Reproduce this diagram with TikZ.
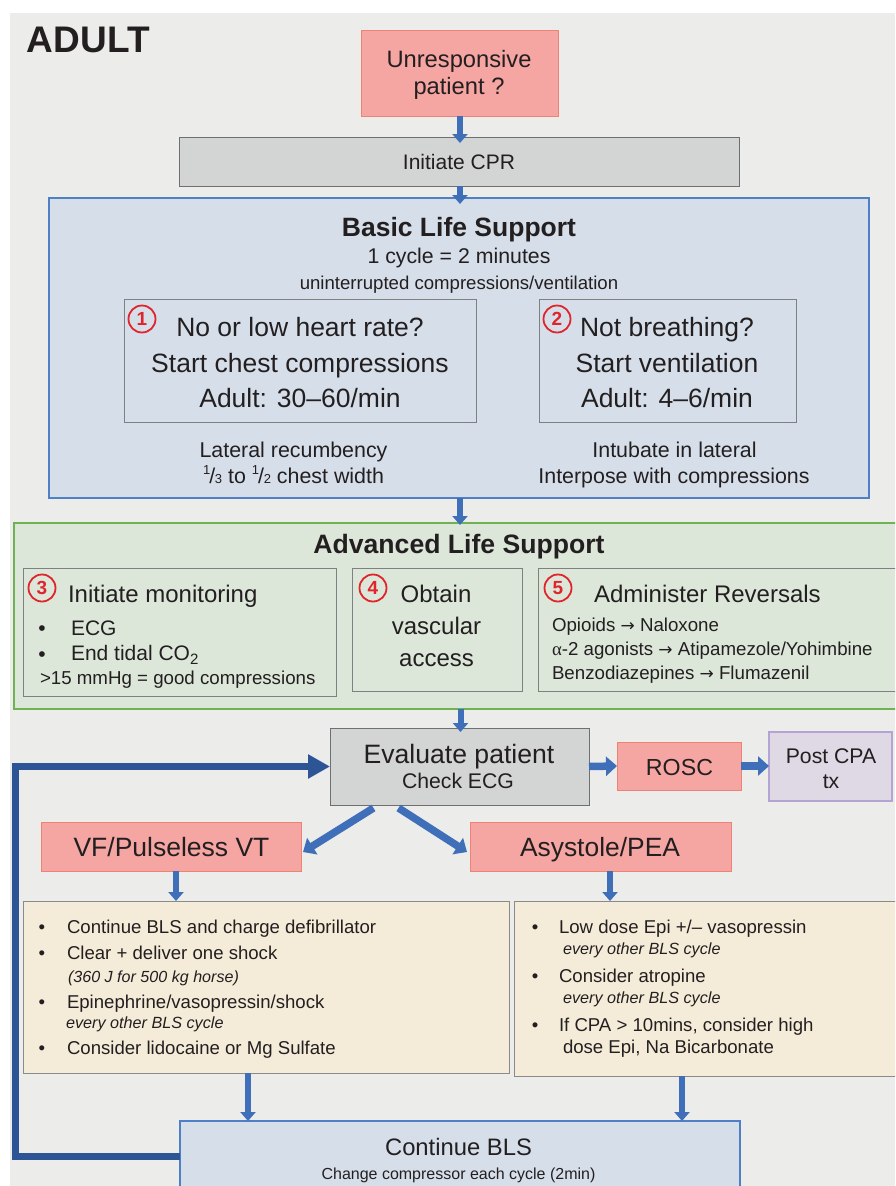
\documentclass[tikz,border=0pt]{standalone}
\usepackage{fontspec}
\setmainfont{Liberation Sans}
\newfontfamily\greekserif{Liberation Serif}
\newfontfamily\arrowfont{DejaVu Sans}
\usetikzlibrary{arrows.meta,calc}

\definecolor{bggray}{HTML}{ECECEB}
\definecolor{ink}{HTML}{231F20}
\definecolor{pinkfill}{HTML}{F5A5A2}
\definecolor{pinkedge}{HTML}{EE8277}
\definecolor{grayfill}{HTML}{D3D4D4}
\definecolor{grayedge}{HTML}{6E6F71}
\definecolor{blsfill}{HTML}{D6DFE9}
\definecolor{blsedge}{HTML}{4F7FC6}
\definecolor{alsfill}{HTML}{DCE7D9}
\definecolor{alsedge}{HTML}{6DB353}
\definecolor{frameedge}{HTML}{7F8082}
\definecolor{yelfill}{HTML}{F4ECD9}
\definecolor{yeledge}{HTML}{8A8A8A}
\definecolor{lavfill}{HTML}{DFD8E5}
\definecolor{lavedge}{HTML}{B3A4D3}
\definecolor{arrowblue}{HTML}{3F6FB8}
\definecolor{loopblue}{HTML}{2D5494}
\definecolor{numred}{HTML}{E0242C}

\newcommand\fsz[1]{\fontsize{#1}{#1}\selectfont}
% stacked fraction such as 1/3 with a raised numerator
\newcommand\stfrac[2]{\raisebox{0.42em}{\fsz{13}#1}\kern-0.04em/\kern-0.02em{\fsz{13}#2}}
% right arrow used in the reversal list
\newcommand\rarr{{\arrowfont\fsz{17}→}}

\tikzset{
  every node/.style={inner sep=0pt, outer sep=0pt, text=ink},
  boxbase/.style={rectangle, line width=1pt},
  pinkbox/.style={boxbase, fill=pinkfill, draw=pinkedge},
  graybox/.style={boxbase, fill=grayfill, draw=grayedge},
  blsbox/.style={boxbase, fill=blsfill, draw=blsedge, line width=1.2pt},
  alsbox/.style={boxbase, fill=alsfill, draw=alsedge, line width=1.2pt},
  framebox/.style={boxbase, draw=frameedge},
  yelbox/.style={boxbase, fill=yelfill, draw=yeledge},
  lavbox/.style={boxbase, fill=lavfill, draw=lavedge, line width=1.2pt},
  ct/.style={anchor=base},
  lt/.style={anchor=base west},
  num/.style={circle, draw=numred, line width=1.8pt, minimum size=27pt,
              text=numred, font=\bfseries\fsz{19}},
  blk/.style={line width=6pt, draw=arrowblue, -{Triangle[width=15pt,length=9pt]}},
  blkwide/.style={line width=7.5pt, draw=arrowblue, -{Triangle[width=19pt,length=11pt]}},
  loopline/.style={line width=7pt, draw=loopblue, line join=miter,
              -{Triangle[width=23pt,length=22pt]}},
}

\begin{document}
\begin{tikzpicture}[x=1pt, y=-1pt]
\clip (0,0) rectangle (895,1186);
\fill[white] (0,0) rectangle (895,1186);
\fill[bggray] (10,13) rectangle (895,1186);

% title
\node[lt, font=\bfseries\fsz{37}] (adult) at (27,52) {ADULT};

% entry
\node[pinkbox, minimum width=197pt, minimum height=86pt] (unresp) at (459.5,73) {};
\node[ct, font=\fsz{23.7}] (unrespa) at (459,67) {Unresponsive};
\node[ct, font=\fsz{23.7}] (unrespb) at (459,94) {patient ?};

\node[graybox, minimum width=560pt, minimum height=49pt] (cpr) at (459,161.5) {};
\node[ct, font=\fsz{21}] (cprt) at (459,169) {Initiate CPR};

% basic life support
\node[blsbox, minimum width=820pt, minimum height=300pt] (bls) at (459,348) {};
\node[ct, font=\bfseries\fsz{26.5}] (blstitle) at (459,236) {Basic Life Support};
\node[ct, font=\fsz{21.3}] (blscycle) at (459,263) {1 cycle = 2 minutes};
\node[ct, font=\fsz{18.6}] (blsunint) at (459,289) {uninterrupted compressions/ventilation};

\node[framebox, minimum width=352pt, minimum height=123pt] (hr) at (300,360.5) {};
\node[num] (n1) at (142,319) {1};
\node[ct, font=\fsz{26.5}] (hra) at (300,336) {No or low heart rate?};
\node[ct, font=\fsz{26.5}] (hrb) at (300,372) {Start chest compressions};
\node[ct, font=\fsz{26.5}] (hrc) at (300,407) {Adult: 30–60/min};

\node[framebox, minimum width=257pt, minimum height=123pt] (br) at (667.5,360.5) {};
\node[num] (n2) at (557,319) {2};
\node[ct, font=\fsz{26.5}] (bra) at (667,336) {Not breathing?};
\node[ct, font=\fsz{26.5}] (brb) at (667,372) {Start ventilation};
\node[ct, font=\fsz{26.5}] (brc) at (667,407) {Adult: 4–6/min};

\node[ct, font=\fsz{21.4}] (lata) at (293.5,457) {Lateral recumbency};
\node[ct, font=\fsz{21.4}] (latb) at (293.5,483) {\stfrac{1}{3} to \stfrac{1}{2} chest width};
\node[ct, font=\fsz{21.4}] (intua) at (674.5,457) {Intubate in lateral};
\node[ct, font=\fsz{21.4}] (intub) at (674,483) {Interpose with compressions};

% advanced life support
\node[alsbox, minimum width=883pt, minimum height=186pt] (als) at (455.5,616) {};
\node[ct, font=\bfseries\fsz{26.6}] (alstitle) at (459,553) {Advanced Life Support};

\node[framebox, minimum width=313pt, minimum height=128pt] (mon) at (179.5,632) {};
\node[num] (n3) at (42,588) {3};
\node[lt, font=\fsz{24}] (mona) at (68,602) {Initiate monitoring};
\node[ct, font=\fsz{21}] (bula) at (42,635) {•};
\node[lt, font=\fsz{21}] (monb) at (71,635) {ECG};
\node[ct, font=\fsz{21}] (bulb) at (42,661) {•};
\node[lt, font=\fsz{21}] (monc) at (71,660) {End tidal CO\raisebox{-0.2em}{\fsz{15}2}};
\node[lt, font=\fsz{18.7}] (mond) at (40,684) {>15 mmHg = good compressions};

\node[framebox, minimum width=170pt, minimum height=123pt] (vasc) at (437,629.5) {};
\node[num] (n4) at (373,588) {4};
\node[ct, font=\fsz{24}] (vasca) at (436,602) {Obtain};
\node[ct, font=\fsz{24}] (vascb) at (436.5,634) {vascular};
\node[ct, font=\fsz{24}] (vascc) at (436.5,666) {access};

\node[framebox, minimum width=359pt, minimum height=123pt] (rev) at (717.5,629.5) {};
\node[num] (n5) at (558,588) {5};
\node[lt, font=\fsz{24}] (reva) at (594,602) {Administer Reversals};
\node[lt, font=\fsz{18.7}] (revb) at (552,631) {Opioids \rarr{} Naloxone};
\node[lt, font=\fsz{18.7}] (revc) at (552,655) {{\greekserif α}-2 agonists \rarr{} Atipamezole/Yohimbine};
\node[lt, font=\fsz{18.7}] (revd) at (552,679) {Benzodiazepines \rarr{} Flumazenil};

% evaluation row
\node[graybox, minimum width=259pt, minimum height=77pt] (eval) at (459.5,766.5) {};
\node[ct, font=\fsz{26.6}] (evala) at (459,763) {Evaluate patient};
\node[ct, font=\fsz{21.2}] (evalb) at (458,788) {Check ECG};

\node[pinkbox, minimum width=124pt, minimum height=48pt] (rosc) at (679,766) {};
\node[ct, font=\fsz{23.2}] (rosct) at (679.5,775) {ROSC};

\node[lavbox, minimum width=123pt, minimum height=69pt] (post) at (830.5,766.5) {};
\node[ct, font=\fsz{21.2}] (posta) at (831,763) {Post CPA};
\node[ct, font=\fsz{21.2}] (postb) at (831,788) {tx};

% rhythm branches
\node[pinkbox, minimum width=260pt, minimum height=49pt] (vf) at (171,846.5) {};
\node[ct, font=\fsz{26.5}] (vft) at (171.5,856) {VF/Pulseless VT};
\node[pinkbox, minimum width=261pt, minimum height=49pt] (asy) at (600.5,846.5) {};
\node[ct, font=\fsz{26.4}] (asyt) at (600,856) {Asystole/PEA};

% shockable rhythm actions
\node[yelbox, minimum width=486pt, minimum height=172pt] (yl) at (266,987) {};
\node[ct, font=\fsz{18.6}] (yla0) at (42,933) {•};
\node[lt, font=\fsz{18.6}] (yla) at (67,933) {Continue BLS and charge defibrillator};
\node[ct, font=\fsz{18.6}] (ylb0) at (42,959) {•};
\node[lt, font=\fsz{18.6}] (ylb) at (67,959) {Clear + deliver one shock};
\node[lt, font=\itshape\fsz{16.1}] (ylc) at (68,982) {(360 J for 500 kg horse)};
\node[ct, font=\fsz{18.6}] (yld0) at (42,1008) {•};
\node[lt, font=\fsz{18.6}] (yld) at (67,1008) {Epinephrine/vasopressin/shock};
\node[lt, font=\itshape\fsz{16.2}] (yle) at (66,1028) {every other BLS cycle};
\node[ct, font=\fsz{18.6}] (ylf0) at (42,1054) {•};
\node[lt, font=\fsz{18.6}] (ylf) at (67,1054) {Consider lidocaine or Mg Sulfate};

% non-shockable rhythm actions
\node[yelbox, minimum width=383pt, minimum height=175pt] (yr) at (705.5,988.5) {};
\node[ct, font=\fsz{18.6}] (yra0) at (535,933) {•};
\node[lt, font=\fsz{18.6}] (yra) at (559,933) {Low dose Epi +/– vasopressin};
\node[lt, font=\itshape\fsz{16.2}] (yrb) at (563,954) {every other BLS cycle};
\node[ct, font=\fsz{18.6}] (yrc0) at (535,982) {•};
\node[lt, font=\fsz{18.6}] (yrc) at (559,982) {Consider atropine};
\node[lt, font=\itshape\fsz{16.2}] (yrd) at (563,1003) {every other BLS cycle};
\node[ct, font=\fsz{18.6}] (yre0) at (535,1031) {•};
\node[lt, font=\fsz{18.6}] (yre) at (559,1031) {If CPA > 10mins, consider high};
\node[lt, font=\fsz{18.6}] (yrf) at (563,1053) {dose Epi, Na Bicarbonate};

% continue
\node[blsbox, minimum width=560pt, minimum height=74pt] (cont) at (460,1158) {};
\node[ct, font=\fsz{23.8}] (conta) at (458.5,1155) {Continue BLS};
\node[ct, font=\fsz{16}] (contb) at (458.5,1179) {Change compressor each cycle (2min)};

% connectors
\draw[blk, shorten >=-6pt] ([xshift=0.5pt]unresp.south) -- ([xshift=0.5pt]unresp.south |- cpr.north);
\draw[blk, shorten >=-6pt] ([xshift=1pt]cpr.south) -- ([xshift=1pt]cpr.south |- bls.north);
\draw[blk, shorten >=-2pt] ([xshift=1pt]bls.south) -- ([xshift=1pt]bls.south |- als.north);
\draw[blk, shorten >=-4pt] ([xshift=5pt]als.south) -- ([xshift=5pt]als.south |- eval.north);
\draw[blkwide] (eval.east) -- (rosc.west);
\draw[blkwide] (rosc.east) -- (rosc.east -| post.west);
\draw[blkwide] ([xshift=-86pt,yshift=-3pt]eval.south) -- ([xshift=2pt,yshift=-5.5pt]vf.east);
\draw[blkwide] ([xshift=-61pt,yshift=-3pt]eval.south) -- ([xshift=-3pt,yshift=-5.5pt]asy.west);
\draw[blk] ([xshift=5pt]vf.south) -- ([xshift=5pt]vf.south |- yl.north);
\draw[blk] ([xshift=9.5pt]asy.south) -- ([xshift=9.5pt]asy.south |- yr.north);
\draw[blk] ([xshift=-18pt]yl.south) -- ([xshift=-18pt]yl.south |- cont.north);
\draw[blk] ([xshift=-23.5pt]yr.south) -- ([xshift=-23.5pt]yr.south |- cont.north);

% loop back to evaluation
\coordinate (loopcorner) at (15,1156);
\draw[loopline] (cont.west |- loopcorner) -- (loopcorner) |- (eval.west);
\end{tikzpicture}
\end{document}
